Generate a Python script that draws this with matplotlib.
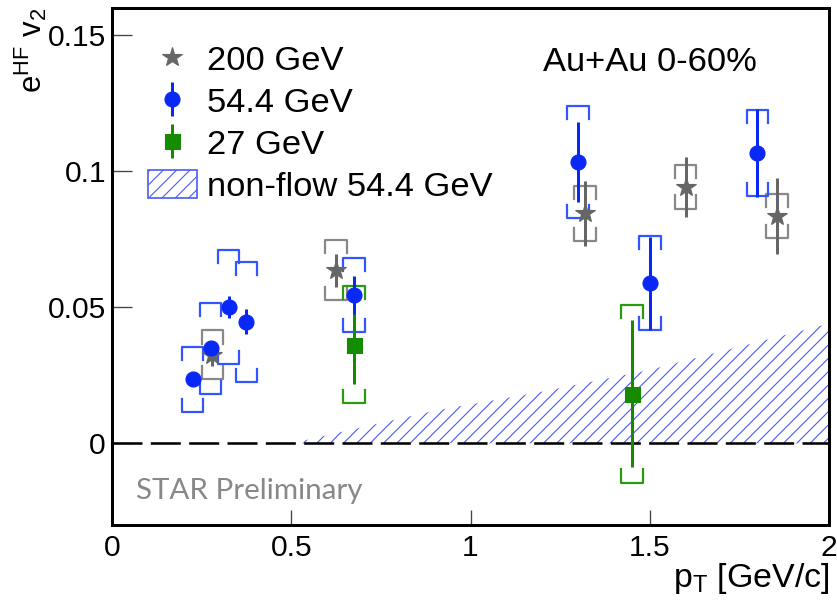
import numpy as np
import matplotlib
matplotlib.use('Agg')
import matplotlib.pyplot as plt
from matplotlib.patches import Patch
from matplotlib.lines import Line2D
from matplotlib.ticker import FuncFormatter

# Dane (STAR, Au+Au 0-60%)
# 200 GeV
pt_200 = [0.28, 0.625, 1.32, 1.60, 1.855]
v2_200 = [0.0325, 0.0636, 0.0845, 0.0943, 0.0836]
stat_200 = [0.004, 0.006, 0.012, 0.011, 0.014]
sys_200 = [0.009, 0.011, 0.010, 0.008, 0.008]

# 54.4 GeV
pt_54 = [0.225, 0.275, 0.325, 0.375, 0.675, 1.30, 1.50, 1.80]
v2_54 = [0.0235, 0.0350, 0.0500, 0.0447, 0.0545, 0.1033, 0.0588, 0.1067]
stat_54 = [0.002, 0.002, 0.004, 0.0045, 0.007, 0.0147, 0.017, 0.016]
sys_54 = [0.012, 0.0167, 0.021, 0.022, 0.0137, 0.0206, 0.0173, 0.0157]

# 27 GeV
pt_27 = [0.675, 1.45]
v2_27 = [0.0363, 0.0183]
stat_27 = [0.0145, 0.027]
sys_27 = [0.0215, 0.0327]

# non-flow 54.4 GeV (górna krawędź pasma)
pt_nf = [0.5, 0.9, 1.2, 1.5, 2.0]
v2_nf = [0.0, 0.012, 0.019, 0.027, 0.044]

szary = '#666666'
szary_sys = '#888888'
niebieski = '#0a28f5'
niebieski_sys = '#3355ff'
zielony = '#158c00'
zielony_sys = '#2a9a10'
kreskowanie = '#4a5cf5'

plt.rcParams['font.family'] = ['Liberation Sans', 'DejaVu Sans']
plt.rcParams['mathtext.default'] = 'regular'
plt.rcParams['hatch.linewidth'] = 1.0
plt.rcParams['lines.scale_dashes'] = False


def klamry(ax, x, y, sys, kolor, dx=0.03, dy=0.0048):
    # systematyka rysowana jako nawiasy (styl ROOT)
    for xi, yi, si in zip(x, y, sys):
        g = yi + si
        d = yi - si
        ax.plot([xi - dx, xi - dx, xi + dx, xi + dx], [g - dy, g, g, g - dy],
                color=kolor, lw=2.0, zorder=3)
        ax.plot([xi - dx, xi - dx, xi + dx, xi + dx], [d + dy, d, d, d + dy],
                color=kolor, lw=2.0, zorder=3)


fig = plt.figure(figsize=(837 / 80, 609 / 80), dpi=80)
ax = fig.add_axes([112 / 837, 1 - 525 / 609, 717 / 837, 517 / 609])

# pasmo non-flow
ax.fill_between(pt_nf, 0, v2_nf, facecolor='none', edgecolor=kreskowanie,
                hatch='//', linewidth=0, zorder=1)
ax.axhline(0, color='black', lw=2.3, dashes=(27, 7.5), zorder=2)

klamry(ax, pt_200, v2_200, sys_200, szary_sys)
klamry(ax, pt_54, v2_54, sys_54, niebieski_sys)
klamry(ax, pt_27, v2_27, sys_27, zielony_sys)

ax.errorbar(pt_200, v2_200, yerr=stat_200, fmt='none', ecolor=szary,
            elinewidth=2.7, capsize=0, zorder=4)
ax.plot(pt_200, v2_200, ls='none', marker='*', ms=18, color=szary, zorder=5)
h54 = ax.errorbar(pt_54, v2_54, yerr=stat_54, fmt='o', color=niebieski, ms=13.5,
                  elinewidth=2.7, capsize=0, zorder=5)
h27 = ax.errorbar(pt_27, v2_27, yerr=stat_27, fmt='s', color=zielony, ms=13.5,
                  elinewidth=2.7, capsize=0, zorder=4)

h200 = Line2D([], [], ls='none', marker='*', ms=18, color=szary)
hnf = Patch(facecolor='none', edgecolor=kreskowanie, hatch='//', lw=1.5)
ax.legend([h200, h54, h27, hnf],
          ['200 GeV', '54.4 GeV', '27 GeV', 'non-flow 54.4 GeV'],
          loc='upper left', bbox_to_anchor=(0.05, 0.93), frameon=False,
          fontsize=31, borderpad=0, borderaxespad=0, handlelength=1.42,
          handleheight=0.87, handletextpad=0.29, labelspacing=0.265)

ax.text(0.601, 0.879, 'Au+Au 0-60%', transform=ax.transAxes, fontsize=31,
        ha='left', va='baseline')
ax.text(0.0335, 0.0497, 'STAR Preliminary', transform=ax.transAxes,
        fontsize=26.5, color='#888888', ha='left', va='baseline', family='Lato')

ax.set_xlim(0, 2)
ax.set_ylim(-0.03, 0.16)
ax.set_xticks([0, 0.5, 1, 1.5, 2])
ax.set_yticks([0, 0.05, 0.1, 0.15])
fmt = FuncFormatter(lambda v, p: '%g' % v)
ax.xaxis.set_major_formatter(fmt)
ax.yaxis.set_major_formatter(fmt)
ax.tick_params(axis='y', direction='in', length=18, width=1.2, color='#444444',
               labelsize=27, pad=5.4)
ax.tick_params(axis='x', direction='in', length=13.5, width=1.2, color='#444444',
               labelsize=27, pad=8.5)
for s in ax.spines.values():
    s.set_linewidth(2.7)

ax.set_ylabel('e$^{HF}$ v$_2$', fontsize=28, loc='top')
ax.yaxis.set_label_coords(-0.088, 1.0)
ax.set_xlabel('p$_T$ [GeV/c]', fontsize=30.5, loc='right')
ax.xaxis.set_label_coords(1.0, -0.07)

fig.savefig('out.png', dpi=80)
